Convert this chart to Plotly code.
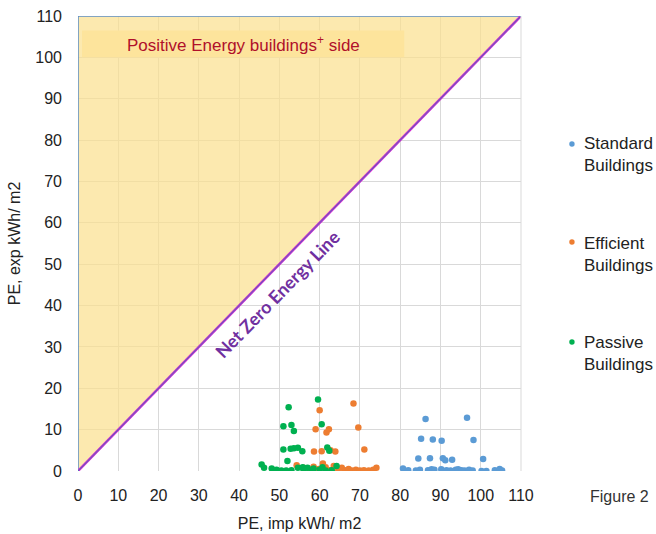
import plotly.graph_objects as go

# ---- data ----
AXIS_MAX = 110
TICKS = list(range(0, 111, 10))

std_x = [86.3, 96.6, 85.2, 88.1, 90.3, 98.2, 84.5, 87.4, 90.6, 91.2, 92.9, 100.6,
         80.7, 82.0, 83.9, 84.9, 86.9, 87.8, 88.5, 90.2, 91.5, 92.5, 93.8, 94.4,
         95.2, 96.0, 97.1, 98.0, 100.2, 101.4, 103.5, 104.7, 105.3]
std_y = [12.6, 12.9, 7.8, 7.6, 7.3, 7.5, 3.0, 3.1, 3.1, 2.6, 2.7, 2.9,
         0.6, 0.2, 0.1, 0.3, 0.2, 0.4, 0.3, 0.4, 0.2, 0.1, 0.3, 0.4,
         0.2, 0.1, 0.3, 0.1, 0.0, 0.0, 0.2, 0.5, 0.1]

eff_x = [68.4, 60.0, 59.0, 61.7, 62.3, 69.6, 58.6, 60.5, 62.7, 63.9, 71.1, 60.8,
         54.3, 56.0, 57.5, 58.5, 59.8, 61.5, 62.5, 63.5, 64.5, 65.5, 66.3, 67.2,
         68.0, 69.0, 70.0, 71.0, 72.2, 73.3, 74.1]
eff_y = [16.3, 14.7, 10.1, 9.3, 10.1, 10.5, 4.7, 4.8, 5.0, 4.7, 5.2, 1.8,
         1.4, 0.8, 0.3, 1.0, 0.5, 0.9, 0.2, 1.2, 0.4, 0.8, 0.2, 0.5,
         0.1, 0.3, 0.1, 0.2, 0.1, 0.3, 0.8]

pas_x = [59.6, 52.3, 51.0, 53.0, 53.6, 60.5, 51.0, 52.8, 53.6, 54.6, 55.7, 61.9,
         62.4, 52.0, 45.6, 46.2, 48.1, 49.3, 50.5, 51.7, 53.0, 54.6, 55.8, 57.0,
         58.5, 60.0, 60.7, 61.5, 63.0, 64.2, 56.0, 58.0]
pas_y = [17.3, 15.4, 10.8, 11.1, 9.7, 11.3, 5.2, 5.4, 5.5, 5.6, 4.8, 5.7,
         4.9, 2.4, 1.6, 0.8, 0.6, 0.3, 0.1, 0.1, 0.2, 0.8, 0.9, 0.8,
         0.6, 0.3, 0.9, 0.1, 0.2, 1.2, 0.1, 0.2]

series_names = ["Standard<br>Buildings", "Efficient<br>Buildings", "Passive<br>Buildings"]
series_colors = ["#5B9BD5", "#ED7D31", "#00B050"]
series_data = [(std_x, std_y), (eff_x, eff_y), (pas_x, pas_y)]

SANS = "Liberation Sans, Arial, sans-serif"

fig = go.Figure()

# positive-energy triangle (above y = x)
fig.add_trace(go.Scatter(
    x=[0, 0, AXIS_MAX, 0], y=[0, AXIS_MAX, AXIS_MAX, 0],
    mode="lines", fill="toself", fillcolor="rgba(251,224,141,0.7)",
    line=dict(color="#5B8DC8", width=1.5), showlegend=False, hoverinfo="skip"))

# net zero energy line
fig.add_trace(go.Scatter(
    x=[0, AXIS_MAX], y=[0, AXIS_MAX], mode="lines",
    line=dict(color="#D020D0", width=2.5), showlegend=False, hoverinfo="skip"))
fig.add_trace(go.Scatter(
    x=[0, AXIS_MAX], y=[0, AXIS_MAX], mode="lines",
    line=dict(color="#4A78B8", width=1), showlegend=False, hoverinfo="skip"))

for name, (xs, ys), col in zip(series_names, series_data, series_colors):
    fig.add_trace(go.Scatter(
        x=xs, y=ys, mode="markers", name=name.replace("<br>", " "), showlegend=False,
        marker=dict(color=col, size=6.5)))

# legend drawn as annotations + dots (kept inside the fixed right margin)
LEG_MARK_X = 1.115
LEG_TEXT_X = 1.137
LEG_MARK_Y = [0.7187, 0.5033, 0.2835]
LEG_TEXT_Y = [0.6967, 0.4769, 0.2593]
for name, col, my, ty in zip(series_names, series_colors, LEG_MARK_Y, LEG_TEXT_Y):
    fig.add_shape(type="circle", xref="paper", yref="paper",
                  xsizemode="pixel", ysizemode="pixel",
                  xanchor=LEG_MARK_X, yanchor=my, x0=-2.7, x1=2.7, y0=-2.7, y1=2.7,
                  fillcolor=col, line=dict(width=0))
    fig.add_annotation(x=LEG_TEXT_X, y=ty, xref="paper", yref="paper", text=name,
                       xanchor="left", yanchor="middle", align="left", showarrow=False,
                       font=dict(family=SANS, size=17, color="#222222"))

# band behind label
fig.add_shape(type="rect", xref="x", yref="y", x0=1, x1=81, y0=100, y1=106.5,
              fillcolor="#FDE49C", line=dict(width=0), layer="above")
fig.add_annotation(x=41, y=103.3, xref="x", yref="y",
                   text="Positive Energy buildings<sup>+</sup> side", showarrow=False,
                   font=dict(family=SANS, size=17, color="#B0102A"))

fig.add_annotation(x=49.5, y=42.8, xref="x", yref="y", text="<b>Net Zero Energy Line</b>",
                   showarrow=False, textangle=-45.8,
                   font=dict(family="Lato, Open Sans, sans-serif", size=18, color="#7030A0"))

fig.add_annotation(x=1.223, y=-0.055, xref="paper", yref="paper", text="Figure 2",
                   xanchor="center", yanchor="middle",
                   showarrow=False, font=dict(family=SANS, size=16, color="#333333"))

# right border
fig.add_shape(type="line", xref="paper", yref="paper", x0=1, x1=1, y0=0, y1=1,
              line=dict(color="#D9D9D9", width=1))

fig.update_layout(
    width=656, height=534, autosize=False, showlegend=False,
    margin=dict(l=78, r=135, t=16, b=63),
    paper_bgcolor="white", plot_bgcolor="white",
    font=dict(family=SANS, size=16, color="#222222"),
    xaxis=dict(range=[0, AXIS_MAX], tickvals=TICKS, showgrid=True, gridcolor="#D9D9D9",
               zeroline=False, showline=False, ticks="", ticklabelstandoff=13,
               automargin=False,
               title=dict(text="PE, imp kWh/ m2", standoff=14, font=dict(size=16))),
    yaxis=dict(range=[0, AXIS_MAX], tickvals=TICKS, showgrid=True, gridcolor="#D9D9D9",
               zeroline=False, showline=False, ticks="", ticklabelstandoff=15,
               automargin=False,
               title=dict(text="PE, exp kWh/ m2", standoff=10, font=dict(size=16))),
)

fig.write_html(
    "out.html",
    config={"responsive": False, "displayModeBar": False},
    post_script="document.body.style.margin='0';document.body.style.overflow='hidden';",
)
